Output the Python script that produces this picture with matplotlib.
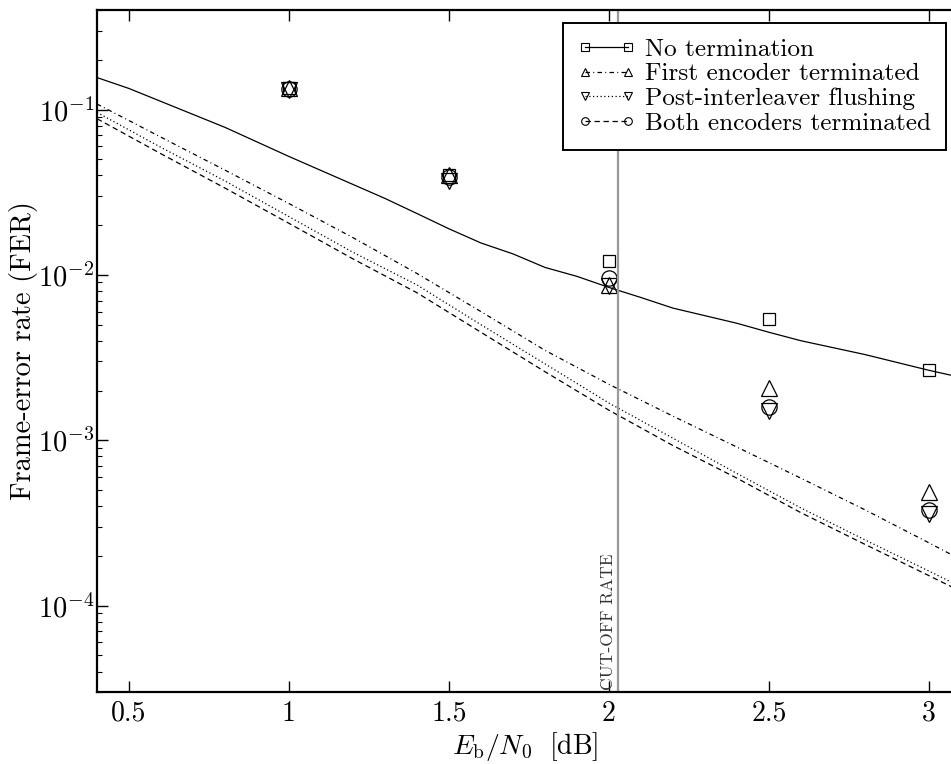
import matplotlib
matplotlib.use("Agg")
import matplotlib.pyplot as plt
from matplotlib.lines import Line2D

# Computer Modern look
plt.rcParams['font.family'] = 'serif'
plt.rcParams['font.serif'] = ['cmr10']
plt.rcParams['mathtext.fontset'] = 'cm'
plt.rcParams['axes.formatter.use_mathtext'] = True
plt.rcParams['axes.unicode_minus'] = False

# Simulated points (markers)
snr_sim = [1.0, 1.5, 2.0, 2.5, 3.0]
fer_none_sim = [0.135, 0.040, 0.0122, 0.0054, 0.00265]
fer_first_sim = [0.135, 0.040, 0.0087, 0.00206, 0.00049]
fer_post_sim = [0.132, 0.037, 0.0086, 0.00150, 0.00036]
fer_both_sim = [0.133, 0.039, 0.0096, 0.00158, 0.00038]

# Bound curves (lines)
snr_none = [0.4, 0.5, 0.8, 1.0, 1.3, 1.4, 1.5, 1.6, 1.7, 1.8, 1.9, 2.0, 2.1,
            2.2, 2.4, 2.5, 2.6, 2.8, 3.0, 3.1]
fer_none = [0.156, 0.134, 0.078, 0.052, 0.029, 0.0235, 0.019, 0.0156, 0.0134,
            0.0111, 0.0098, 0.0084, 0.0073, 0.0063, 0.0051, 0.0045, 0.0040,
            0.0033, 0.00265, 0.00240]

snr_bound = [0.4, 0.6, 0.8, 1.0, 1.2, 1.4, 1.6, 1.8, 2.0, 2.2, 2.4, 2.6, 2.8,
             3.0, 3.1]
fer_first = [0.108, 0.068, 0.043, 0.027, 0.0168, 0.0102, 0.0060, 0.0035,
             0.00218, 0.00140, 0.00091, 0.00059, 0.00038, 0.00024, 0.00019]
fer_post = [0.096, 0.059, 0.037, 0.0225, 0.0137, 0.0087, 0.0050, 0.0029,
            0.00168, 0.00103, 0.00063, 0.00039, 0.00025, 0.000162, 0.000130]
fer_both = [0.088, 0.054, 0.0335, 0.0205, 0.0125, 0.0078, 0.0045, 0.0026,
            0.00152, 0.00093, 0.00059, 0.000365, 0.000235, 0.000152, 0.000122]

labels = ['No termination', 'First encoder terminated',
          'Post-interleaver flushing', 'Both encoders terminated']
markers = ['s', '^', 'v', 'o']
# solid, dash-dot, dotted, dashed
styles = ['-', (0, (3.6, 2.6, 0.8, 2.6)), (0, (1.0, 2.0)), (0, (4.3, 2.9))]

cutoff_snr = 2.028

fig = plt.figure(figsize=(9.51, 7.64), dpi=100)
ax = fig.add_axes([0.102, 0.094, 0.900, 0.893])

# Lines
ax.plot(snr_none, fer_none, ls=styles[0], c='black', lw=0.9)
ax.plot(snr_bound, fer_first, ls=styles[1], c='black', lw=0.9)
ax.plot(snr_bound, fer_post, ls=styles[2], c='black', lw=0.9)
ax.plot(snr_bound, fer_both, ls=styles[3], c='black', lw=0.9)

# Markers
for ys, m in zip([fer_none_sim, fer_first_sim, fer_post_sim, fer_both_sim], markers):
    ms = 9 if m == 's' else 11
    ax.plot(snr_sim, ys, ls='none', marker=m, ms=ms, mfc='none',
            mec='black', mew=0.9)

# Cut-off rate line
ax.axvline(cutoff_snr, color='#999999', lw=1.6)
ax.text(cutoff_snr - 0.005, 3.1e-5, 'CUT-OFF RATE', rotation=90,
        ha='right', va='bottom', fontsize=12.5, color='#333333')

ax.set_yscale('log')
ax.set_xlim(0.4, 3.075)
ax.set_ylim(3e-5, 0.4)
ax.set_xticks([0.5, 1, 1.5, 2, 2.5, 3])
ax.set_xticklabels(['0.5', '1', '1.5', '2', '2.5', '3'])

ax.tick_params(which='both', direction='in', top=True, right=False)
ax.tick_params(axis='x', labelsize=20, pad=6)
ax.tick_params(axis='y', labelsize=20.5, pad=2)
ax.tick_params(which='major', length=8, width=1)
ax.tick_params(which='minor', length=3.5, width=0.8)
ax.tick_params(axis='x', which='minor', bottom=False, top=False)
for s in ['left', 'bottom', 'top']:
    ax.spines[s].set_linewidth(1.6)
ax.spines['right'].set_visible(False)

ax.set_xlabel(r'$E_\mathrm{b}/N_0\ \ [\mathrm{dB}]$', fontsize=20, labelpad=2)
ax.set_ylabel('Frame-error rate (FER)', fontsize=20.5)
ax.yaxis.set_label_coords(-0.069, 0.5)

# Legend with proxy handles
handles = [Line2D([], [], color='black', ls=s, lw=0.9, marker=m, ms=5.5,
                  mfc='none', mec='black', mew=0.8)
           for s, m in zip(styles, markers)]
leg = ax.legend(handles, labels, loc='upper right',
                bbox_to_anchor=(0.992, 0.981), borderaxespad=0,
                numpoints=2, fontsize=18.2, handlelength=2.3,
                handletextpad=0.35, labelspacing=0.08, borderpad=0.6,
                fancybox=False, framealpha=1, edgecolor='black')
leg.get_frame().set_linewidth(1.4)

fig.savefig('out.png', dpi=100)
